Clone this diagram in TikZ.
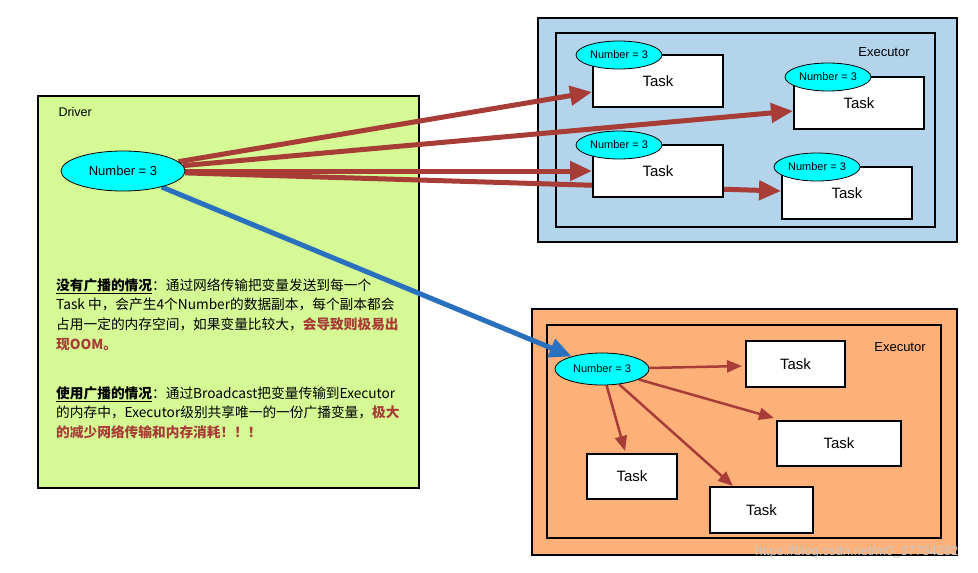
\documentclass[tikz,border=0pt]{standalone}
\usepackage{fontspec}
\setmainfont{Liberation Sans}
\newfontfamily\cjk{Noto Sans CJK SC}
\usetikzlibrary{arrows.meta,shapes.geometric,calc}

\definecolor{drivergreen}{RGB}{212,249,149}
\definecolor{execblue}{RGB}{179,212,234}
\definecolor{execorange}{RGB}{253,176,120}
\definecolor{sendred}{RGB}{168,60,55}
\definecolor{castblue}{RGB}{41,112,190}
\definecolor{varcyan}{RGB}{0,255,255}

\pgfdeclarelayer{back}
\pgfdeclarelayer{mid}
\pgfsetlayers{back,mid,main}

\tikzset{
  frame/.style={draw,line width=2pt},
  task/.style={draw,fill=white,line width=2pt,inner sep=0pt,
    font=\fontsize{15}{15}\selectfont},
  numvar/.style={ellipse,draw,fill=varcyan,inner sep=0pt,line width=0.8pt},
  bigsend/.style={-{Triangle[length=22pt,width=19pt]},line width=5pt,draw=sendred},
  smallsend/.style={-{Triangle[length=15pt,width=12pt]},line width=2.5pt,draw=sendred},
  castline/.style={-{Triangle[length=22pt,width=19pt]},line width=5pt,draw=castblue}
}
\newcommand\hot[1]{\textcolor{sendred}{\textbf{#1}}}
\newcommand\head[1]{\underline{\textbf{#1}}}

\begin{document}
\begin{tikzpicture}[x=1pt,y=-1pt]

\useasboundingbox (0,0) rectangle (978,573); %% page size

%% boxes behind everything
\begin{pgfonlayer}{back}
\draw[frame,fill=drivergreen] (38,96) rectangle (419,488);
\draw[frame,fill=execblue] (538,18) rectangle (957,242);
\draw[frame] (556,33) rectangle (935,227);
\draw[frame,fill=execorange] (532,309) rectangle (957,555);
\draw[frame] (547,325) rectangle (941,538);
\end{pgfonlayer}

%% driver side
\node[anchor=west,font=\fontsize{12.5}{12.5}\selectfont] (drvlabel) at (55,112) {Driver};
\node[numvar,minimum width=124pt,minimum height=40pt,font=\fontsize{13}{13}\selectfont]
  (drv) at (123,171) {Number = 3};

\node[anchor=north west,inner sep=0pt,align=left,
  font=\cjk\fontsize{13.7}{19.7}\selectfont] (nocast) at (56,278)
  {\head{没有广播的情况}：通过网络传输把变量发送到每一个\\
   Task 中，会产生4个Number的数据副本，每个副本都会\\
   占用一定的内存空间，如果变量比较大，\hot{会导致则极易出}\\
   \hot{现OOM。}};
\node[anchor=north west,inner sep=0pt,align=left,
  font=\cjk\fontsize{13.7}{19.7}\selectfont] (withcast) at (56,386)
  {\head{使用广播的情况}：通过Broadcast把变量传输到Executor\\
   的内存中，Executor级别共享唯一的一份广播变量，\hot{极大}\\
   \hot{的减少网络传输和内存消耗！！！}};

%% executor without broadcast
\node[font=\fontsize{13}{13}\selectfont] (exectop) at (884,52) {Executor};
\node[task,minimum width=130pt,minimum height=52pt] (t1) at (658,81) {Task};
\node[task,minimum width=130pt,minimum height=52pt] (t2) at (859,103) {Task};
\node[task,minimum width=130pt,minimum height=52pt] (t3) at (658,171) {Task};
\node[task,minimum width=130pt,minimum height=52pt] (t4) at (847,193) {Task};
\foreach \t/\p in {1/{619,55},2/{828,77},3/{619,145},4/{817,167}}
  \node[numvar,minimum width=86pt,minimum height=28pt,font=\fontsize{11}{11}\selectfont]
    (v\t) at (\p) {Number = 3};

%% executor with broadcast
\node[font=\fontsize{13}{13}\selectfont] (execbot) at (900,347) {Executor};
\node[numvar,minimum width=94pt,minimum height=32pt,font=\fontsize{11}{11}\selectfont]
  (bv) at (602,369) {Number = 3};
\node[task,minimum width=99pt,minimum height=46pt] (b1) at (795.5,364) {Task};
\node[task,minimum width=124pt,minimum height=45pt] (b2) at (839,443.5) {Task};
\node[task,minimum width=90pt,minimum height=45pt] (b3) at (632,476.5) {Task};
\node[task,minimum width=103pt,minimum height=46pt] (b4) at (761.5,510) {Task};

%% connectors
\begin{pgfonlayer}{mid}
\draw[bigsend] (drv) -- ([yshift=-11pt]t1.west);
\draw[bigsend] (drv) -- ([yshift=-8pt]t2.west);
\draw[bigsend] (drv) -- (t3.west);
\draw[bigsend] (drv) -- ([yshift=2pt]t4.west);
\draw[castline] (drv) -- (bv);

\draw[smallsend] (bv) -- ([xshift=-3pt,yshift=-2pt]b1.west);
\draw[smallsend] (bv) -- ([xshift=-2pt,yshift=2pt]b2.north west);
\draw[smallsend] (bv) -- ([xshift=-7pt,yshift=2pt]b3.north);
\draw[smallsend] (bv) -- ([xshift=24pt]b4.north west);
\end{pgfonlayer}

%% watermark
\node[anchor=east,text=black!22,font=\fontsize{13}{13}\selectfont] (mark) at (962,552)
  {https://blog.csdn.net/m0\_37754282};

\end{tikzpicture}
\end{document}
